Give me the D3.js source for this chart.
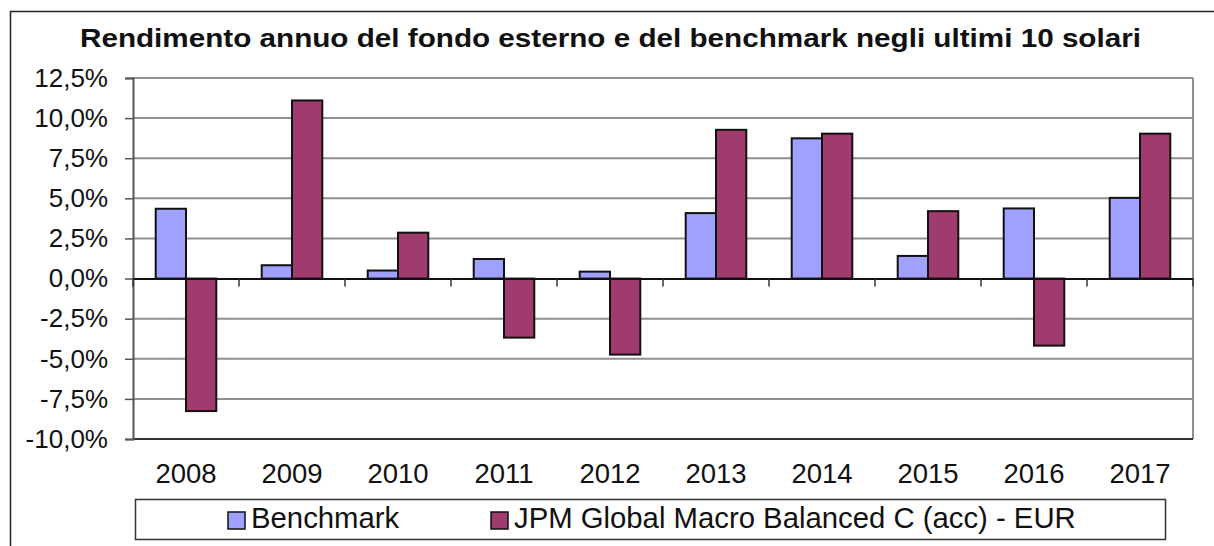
<!DOCTYPE html>
<html>
<head>
<meta charset="utf-8">
<script src="https://cdn.jsdelivr.net/npm/d3@7/dist/d3.min.js"></script>
<style>
  html, body { margin: 0; padding: 0; background: #fff; }
  svg { display: block; font-family: "Liberation Sans", Arial, sans-serif; }
</style>
</head>
<body>
<svg id="chart" width="1214" height="546"></svg>
<script>
// Annual returns (%) per calendar year
const years = ["2008", "2009", "2010", "2011", "2012", "2013", "2014", "2015", "2016", "2017"];
const seriesNames = ["Benchmark", "JPM Global Macro Balanced C (acc) - EUR"];
const benchmark = [4.35, 0.83, 0.5, 1.22, 0.43, 4.08, 8.74, 1.41, 4.37, 5.03];
const fund = [-8.26, 11.1, 2.86, -3.68, -4.74, 9.27, 9.03, 4.2, -4.18, 9.03];
const yTicks = [-10, -7.5, -5, -2.5, 0, 2.5, 5, 7.5, 10, 12.5];
const titleText = "Rendimento annuo del fondo esterno e del benchmark negli ultimi 10 solari";
const colors = ["#a0a0ff", "#a03b6d"];

const svg = d3.select("#chart");

// outer chart frame
svg.append("rect")
  .attr("x", 10.5).attr("y", 11.5)
  .attr("width", 1240).attr("height", 600)
  .attr("fill", "#fff").attr("stroke", "#222").attr("stroke-width", 1.5);

const plot = { left: 133, right: 1193, top: 78, bottom: 439 };

const y = d3.scaleLinear().domain([-10, 12.5]).range([plot.bottom, plot.top]);
const x0 = d3.scaleBand().domain(years).range([plot.left, plot.right]).padding(0);
const x1 = d3.scaleBand().domain(seriesNames).range([0, x0.bandwidth()])
  .paddingInner(0).paddingOuter(0.75);

// title
svg.append("text")
  .attr("x", 80).attr("y", 46.5)
  .attr("font-weight", "bold")
  .attr("font-size", 26.5)
  .attr("fill", "#111")
  .attr("textLength", 1061)
  .attr("lengthAdjust", "spacingAndGlyphs")
  .text(titleText);

// horizontal gridlines
svg.append("g").selectAll("line")
  .data(yTicks.filter(d => d !== 0 && d !== -10))
  .join("line")
  .attr("x1", plot.left).attr("x2", plot.right)
  .attr("y1", d => y(d)).attr("y2", d => y(d))
  .attr("stroke", "#8f8f8f").attr("stroke-width", 2);

// right plot border
svg.append("line")
  .attr("x1", plot.right).attr("x2", plot.right)
  .attr("y1", plot.top).attr("y2", plot.bottom)
  .attr("stroke", "#8f8f8f").attr("stroke-width", 2);

// bottom plot border
svg.append("line")
  .attr("x1", plot.left).attr("x2", plot.right)
  .attr("y1", y(-10)).attr("y2", y(-10))
  .attr("stroke", "#333").attr("stroke-width", 2);

// y axis
const yAxis = d3.axisLeft(y)
  .tickValues(yTicks)
  .tickSize(8)
  .tickPadding(17)
  .tickFormat(d => d3.format(".1f")(d).replace(".", ",").replace("−", "-") + "%");
const gy = svg.append("g")
  .attr("transform", `translate(${plot.left},0)`)
  .call(yAxis);
gy.select(".domain").attr("stroke", "#555").attr("stroke-width", 2);
gy.selectAll(".tick line").attr("stroke", "#555").attr("stroke-width", 1.5);
gy.selectAll(".tick text")
  .attr("font-size", 26)
  .attr("fill", "#111")
  .attr("font-family", "Liberation Sans, Arial, sans-serif");

// bars
const data = years.map((yr, i) => ({ year: yr, values: [benchmark[i], fund[i]] }));
const groups = svg.append("g").selectAll("g")
  .data(data)
  .join("g")
  .attr("transform", d => `translate(${x0(d.year)},0)`);

groups.selectAll("rect")
  .data(d => d.values.map((v, j) => ({ name: seriesNames[j], value: v, j })))
  .join("rect")
  .attr("x", d => x1(d.name))
  .attr("width", x1.bandwidth())
  .attr("y", d => y(Math.max(0, d.value)))
  .attr("height", d => Math.abs(y(d.value) - y(0)))
  .attr("fill", d => colors[d.j])
  .attr("stroke", "#111")
  .attr("stroke-width", 2);

// x axis at zero
const xAxis = d3.axisBottom(x0).tickSize(0).tickFormat(() => "");
const gx = svg.append("g")
  .attr("transform", `translate(0,${y(0)})`)
  .call(xAxis);
gx.select(".domain").attr("stroke", "#111").attr("stroke-width", 2);
gx.selectAll(".tick").remove();
// category separator ticks
gx.selectAll("line.sep")
  .data(years.concat(["end"]))
  .join("line")
  .attr("class", "sep")
  .attr("x1", d => d === "end" ? plot.right : x0(d))
  .attr("x2", d => d === "end" ? plot.right : x0(d))
  .attr("y1", 0).attr("y2", 8)
  .attr("stroke", "#333").attr("stroke-width", 1.5);

// year labels below the plot
svg.append("g").selectAll("text")
  .data(years)
  .join("text")
  .attr("x", d => x0(d) + x0.bandwidth() / 2)
  .attr("y", 483)
  .attr("text-anchor", "middle")
  .attr("font-size", 27.5)
  .attr("fill", "#111")
  .text(d => d);

// legend
const legend = svg.append("g");
legend.append("rect")
  .attr("x", 135.5).attr("y", 499.5)
  .attr("width", 1030).attr("height", 40)
  .attr("fill", "#fff").attr("stroke", "#333").attr("stroke-width", 1.5);
const legendItems = [
  { name: seriesNames[0], color: colors[0], x: 228 },
  { name: seriesNames[1], color: colors[1], x: 491 }
];
legendItems.forEach(it => {
  legend.append("rect")
    .attr("x", it.x).attr("y", 512)
    .attr("width", 17).attr("height", 17)
    .attr("fill", it.color).attr("stroke", "#111").attr("stroke-width", 1.5);
  legend.append("text")
    .attr("x", it.x + 23).attr("y", 528)
    .attr("font-size", 29.3)
    .attr("fill", "#111")
    .text(it.name);
});
</script>
</body>
</html>
